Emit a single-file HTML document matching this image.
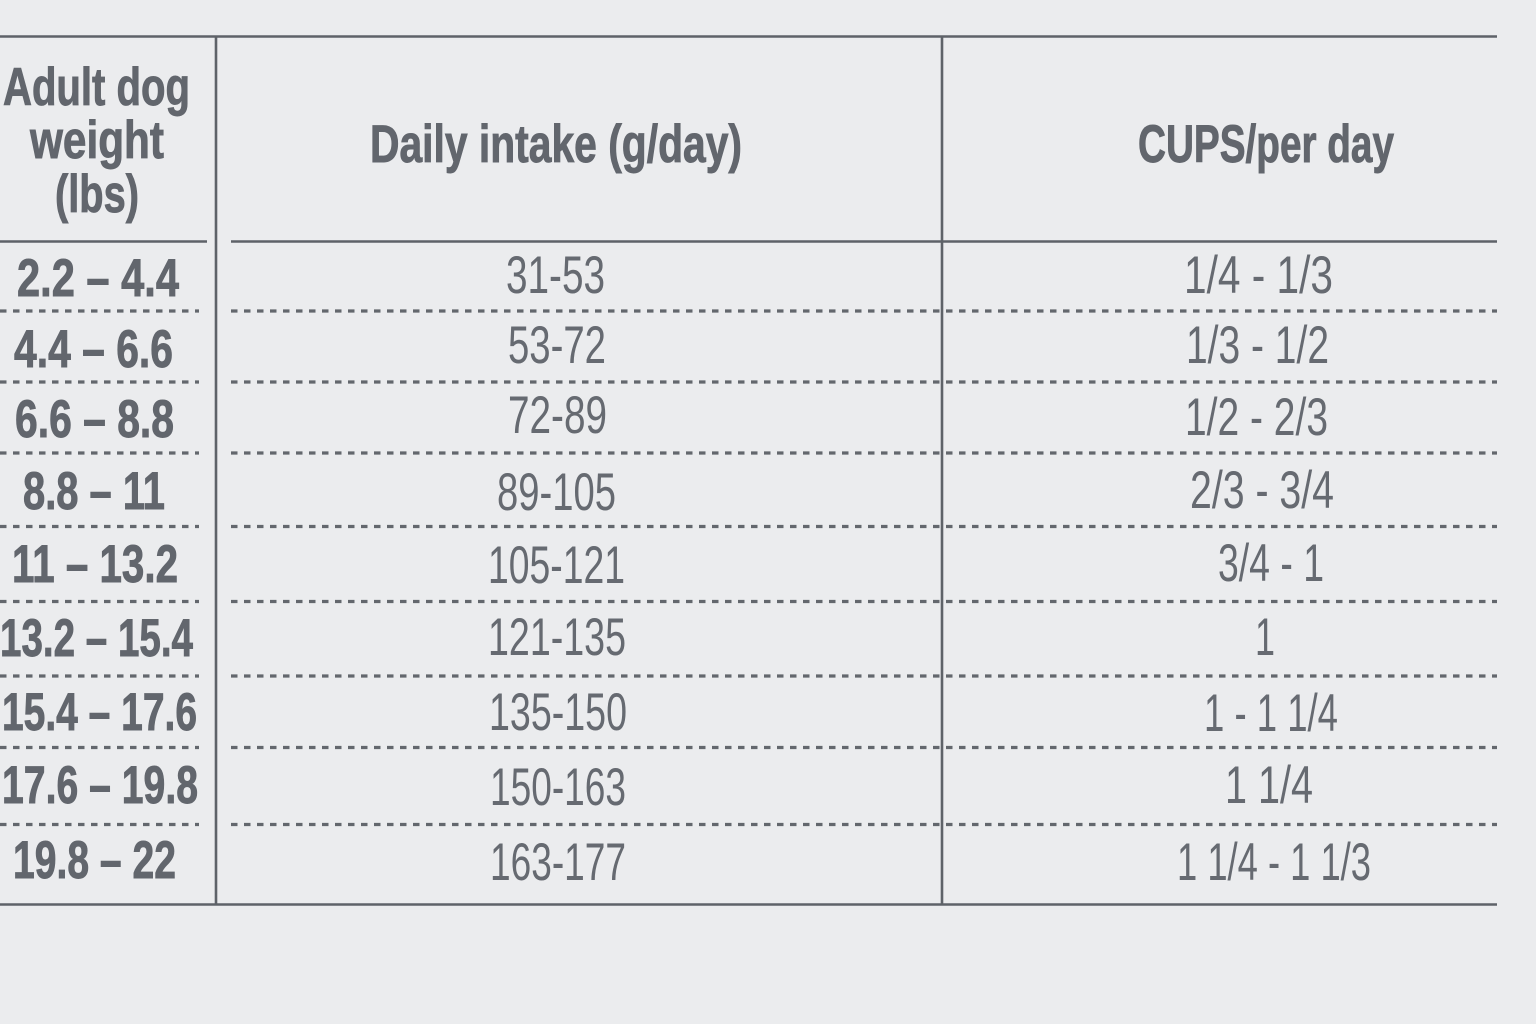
<!DOCTYPE html>
<html>
<head>
<meta charset="utf-8">
<style>
  html,body{margin:0;padding:0;background:#ebecee;}
  svg{display:block;}
  .b{font-family:"Liberation Sans Narrow","Liberation Sans",sans-serif;font-weight:bold;font-size:53px;fill:#62666d;stroke:#62666d;stroke-width:0.9px;}
  .r{font-family:"Liberation Sans Narrow","Liberation Sans",sans-serif;font-weight:normal;font-size:53px;fill:#666a71;}
</style>
</head>
<body>
<svg width="1536" height="1024" viewBox="0 0 1536 1024" xmlns="http://www.w3.org/2000/svg">
  <rect x="0" y="0" width="1536" height="1024" fill="#ebecee"/>

  <!-- solid lines -->
  <g stroke="#5e6268" stroke-width="2.6" fill="none">
    <line x1="0" y1="36.5" x2="1497" y2="36.5"/>
    <line x1="216" y1="36" x2="216" y2="905"/>
    <line x1="942" y1="36" x2="942" y2="905"/>
    <line x1="0" y1="241.5" x2="207" y2="241.5"/>
    <line x1="231" y1="241.5" x2="1497" y2="241.5"/>
    <line x1="0" y1="904.5" x2="1497" y2="904.5"/>
  </g>

  <!-- dashed lines -->
  <g stroke="#63676d" stroke-width="3.2" stroke-dasharray="6.5 6.5" fill="none">
    <line x1="0" y1="311" x2="199" y2="311"/>
    <line x1="231" y1="311" x2="1497" y2="311"/>
    <line x1="0" y1="382" x2="199" y2="382"/>
    <line x1="231" y1="382" x2="1497" y2="382"/>
    <line x1="0" y1="453" x2="199" y2="453"/>
    <line x1="231" y1="453" x2="1497" y2="453"/>
    <line x1="0" y1="526.5" x2="199" y2="526.5"/>
    <line x1="231" y1="526.5" x2="1497" y2="526.5"/>
    <line x1="0" y1="601.5" x2="199" y2="601.5"/>
    <line x1="231" y1="601.5" x2="1497" y2="601.5"/>
    <line x1="0" y1="676" x2="199" y2="676"/>
    <line x1="231" y1="676" x2="1497" y2="676"/>
    <line x1="0" y1="747.5" x2="199" y2="747.5"/>
    <line x1="231" y1="747.5" x2="1497" y2="747.5"/>
    <line x1="0" y1="824.5" x2="199" y2="824.5"/>
    <line x1="231" y1="824.5" x2="1497" y2="824.5"/>
  </g>

  <!-- headers -->
  <text class="b" x="3" y="105" textLength="187" lengthAdjust="spacingAndGlyphs">Adult dog</text>
  <text class="b" x="30" y="158" textLength="134" lengthAdjust="spacingAndGlyphs">weight</text>
  <text class="b" x="55" y="212" textLength="84" lengthAdjust="spacingAndGlyphs">(lbs)</text>
  <text class="b" x="370" y="162" textLength="372" lengthAdjust="spacingAndGlyphs">Daily intake (g/day)</text>
  <text class="b" x="1138" y="162" textLength="256" lengthAdjust="spacingAndGlyphs">CUPS/per day</text>

  <!-- left column -->
  <text class="b" x="17" y="296" textLength="162" lengthAdjust="spacingAndGlyphs">2.2 – 4.4</text>
  <text class="b" x="14" y="367" textLength="159" lengthAdjust="spacingAndGlyphs">4.4 – 6.6</text>
  <text class="b" x="15" y="437" textLength="159" lengthAdjust="spacingAndGlyphs">6.6 – 8.8</text>
  <text class="b" x="23" y="509" textLength="142" lengthAdjust="spacingAndGlyphs">8.8 – 11</text>
  <text class="b" x="12" y="582" textLength="166" lengthAdjust="spacingAndGlyphs">11 – 13.2</text>
  <text class="b" x="0" y="656" textLength="193" lengthAdjust="spacingAndGlyphs">13.2 – 15.4</text>
  <text class="b" x="2" y="730" textLength="195" lengthAdjust="spacingAndGlyphs">15.4 – 17.6</text>
  <text class="b" x="2" y="803" textLength="196" lengthAdjust="spacingAndGlyphs">17.6 – 19.8</text>
  <text class="b" x="13" y="878" textLength="163" lengthAdjust="spacingAndGlyphs">19.8 – 22</text>

  <!-- middle column -->
  <text class="r" x="506" y="293" textLength="99" lengthAdjust="spacingAndGlyphs">31-53</text>
  <text class="r" x="508" y="363" textLength="98" lengthAdjust="spacingAndGlyphs">53-72</text>
  <text class="r" x="508" y="433" textLength="99" lengthAdjust="spacingAndGlyphs">72-89</text>
  <text class="r" x="497" y="510" textLength="119" lengthAdjust="spacingAndGlyphs">89-105</text>
  <text class="r" x="488" y="583" textLength="137" lengthAdjust="spacingAndGlyphs">105-121</text>
  <text class="r" x="488" y="655" textLength="138" lengthAdjust="spacingAndGlyphs">121-135</text>
  <text class="r" x="489" y="730" textLength="138" lengthAdjust="spacingAndGlyphs">135-150</text>
  <text class="r" x="490" y="805" textLength="136" lengthAdjust="spacingAndGlyphs">150-163</text>
  <text class="r" x="490" y="880" textLength="136" lengthAdjust="spacingAndGlyphs">163-177</text>

  <!-- right column -->
  <text class="r" x="1184" y="293" textLength="149" lengthAdjust="spacingAndGlyphs">1/4 - 1/3</text>
  <text class="r" x="1186" y="363" textLength="143" lengthAdjust="spacingAndGlyphs">1/3 - 1/2</text>
  <text class="r" x="1185" y="435" textLength="143" lengthAdjust="spacingAndGlyphs">1/2 - 2/3</text>
  <text class="r" x="1190" y="508" textLength="144" lengthAdjust="spacingAndGlyphs">2/3 - 3/4</text>
  <text class="r" x="1218" y="581" textLength="106" lengthAdjust="spacingAndGlyphs">3/4 - 1</text>
  <text class="r" x="1255" y="655" textLength="20" lengthAdjust="spacingAndGlyphs">1</text>
  <text class="r" x="1204" y="731" textLength="134" lengthAdjust="spacingAndGlyphs">1 - 1 1/4</text>
  <text class="r" x="1225" y="803" textLength="88" lengthAdjust="spacingAndGlyphs">1 1/4</text>
  <text class="r" x="1177" y="880" textLength="194" lengthAdjust="spacingAndGlyphs">1 1/4 - 1 1/3</text>
</svg>
</body>
</html>
